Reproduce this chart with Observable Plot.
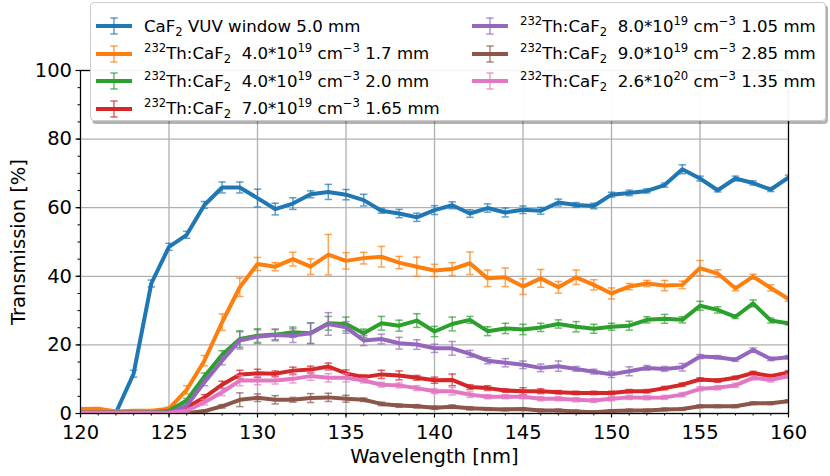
<!DOCTYPE html>
<html><head><meta charset="utf-8">
<script src="https://cdn.jsdelivr.net/npm/d3@7"></script>
<script src="https://cdn.jsdelivr.net/npm/@observablehq/plot@0.6"></script>
<style>
body{margin:0;background:#fff;font-family:"DejaVu Sans",sans-serif;}
#wrap{position:relative;width:830px;height:476px;overflow:hidden;}
#legend{position:absolute;left:90px;top:2px;width:736px;height:119px;background:rgba(255,255,255,0.96);border:1px solid #cccccc;border-radius:4px;box-shadow:2px 3px 0 rgba(0,0,0,0.3);box-sizing:border-box;}
.entry{position:absolute;height:26px;display:flex;align-items:center;font-size:16.6px;color:#000;white-space:pre;}
.entry svg{margin-right:12px;flex:none;}
sup,sub{font-size:70%;line-height:0;}
</style>
</head><body>
<div id="wrap"><div id="chart"></div><div id="legend"></div></div>
<script>
const wavelength = [120,121,122,123,124,125,126,127,128,129,130,131,132,133,134,135,136,137,138,139,140,141,142,143,144,145,146,147,148,149,150,151,152,153,154,155,156,157,158,159,160];

const caf2Window = [1.0,1.0,0.2,11.6,37.9,48.6,52.1,60.8,65.9,65.9,62.8,59.6,61.2,63.9,64.6,63.8,62.2,59.1,58.3,57.2,59.3,60.7,58.3,59.9,58.6,59.4,59.1,61.5,60.8,60.5,63.8,64.3,64.9,66.6,71.2,68.5,65.1,68.5,67.2,65.3,68.8];
const caf2WindowErr = [0.3,0.3,0.3,1.0,1.0,1.0,1.0,1.0,1.6,1.6,2.6,1.7,1.7,1.0,2.2,1.5,1.7,0.7,1.2,1.2,1.3,1.0,1.1,1.2,1.3,1.1,1.0,1.0,0.7,0.8,0.7,0.8,0.6,0.6,1.3,0.7,0.5,0.7,0.6,0.6,0.7];

const th40a = [1.3,1.4,0.6,0.8,0.8,1.4,6.9,15.4,26.6,36.8,43.6,42.8,45.0,42.8,46.3,44.5,45.3,45.7,44.0,42.8,41.7,42.1,43.8,39.4,39.7,37.0,39.4,36.8,39.7,37.5,35.0,37.0,37.9,37.3,37.5,42.4,40.8,36.5,39.9,36.6,33.4];
const th40aErr = [0.3,0.3,0.3,0.3,0.3,0.5,1.2,1.5,2.4,2.7,1.9,1.2,2.0,2.3,5.9,2.4,1.7,3.0,1.8,2.8,1.8,1.9,3.3,2.4,2.7,2.3,2.6,1.7,2.1,1.5,1.6,0.9,0.9,1.5,1.1,2.2,1.1,0.7,0.7,0.9,0.7];

const th40b = [0.3,0.3,0.3,0.3,0.3,0.8,3.8,10.8,17.1,21.7,22.7,23.0,23.7,23.4,26.3,26.1,23.4,26.3,25.6,27.1,23.9,26.1,27.3,24.0,24.8,24.5,25.1,26.1,25.3,24.7,25.3,25.6,27.3,27.6,27.3,31.4,30.2,28.2,32.1,27.1,26.3];
const th40bErr = [0.2,0.2,0.2,0.2,0.2,0.2,0.6,1.0,1.2,2.4,2.0,1.5,1.5,3.0,2.0,2.0,1.2,2.0,1.6,2.0,1.5,2.0,1.0,1.3,1.5,1.5,1.2,1.2,1.5,1.3,1.0,1.3,0.9,1.3,0.9,1.3,0.9,0.5,1.0,0.7,0.5];

const th70 = [0.2,0.2,0.2,0.2,0.2,0.2,1.8,4.7,8.4,11.4,11.7,11.6,12.5,12.8,13.7,11.7,10.6,11.4,11.1,10.4,9.7,9.8,7.7,7.4,6.7,6.5,6.5,6.2,6.0,6.0,6.0,6.5,6.5,7.4,8.4,9.9,9.6,10.4,11.8,10.9,12.0];
const th70Err = [0.2,0.2,0.2,0.2,0.2,0.2,0.4,0.8,1.0,1.2,1.2,0.8,1.0,1.0,1.0,1.0,0.7,1.2,1.3,0.7,0.9,1.7,0.7,0.7,0.5,1.0,0.7,0.5,0.5,0.5,0.5,0.5,0.5,0.5,0.5,0.5,0.5,0.5,0.5,0.5,0.5];

const th80 = [0.2,0.2,0.2,0.2,0.2,0.2,2.3,9.1,15.4,21.3,22.4,22.9,22.7,23.4,26.1,25.1,21.3,21.7,20.5,20.1,19.0,19.0,17.4,15.4,14.8,14.2,13.3,13.8,13.0,12.2,11.4,12.3,13.3,13.0,13.5,16.6,16.4,15.7,18.5,15.9,16.4];
const th80Err = [0.2,0.2,0.2,0.2,0.2,0.2,0.5,1.0,1.2,2.5,2.0,1.7,2.0,3.0,3.3,1.7,1.5,1.4,1.7,1.4,1.2,2.0,1.0,0.9,1.2,1.1,1.1,1.5,0.7,0.7,0.9,1.3,0.7,0.7,1.1,0.6,0.5,0.5,0.6,0.5,0.5];

const th90 = [0.1,0.1,0.1,0.1,0.1,0.1,0.1,0.7,2.1,4.0,4.6,4.0,4.0,4.5,4.7,4.3,4.0,2.8,2.3,2.1,1.7,2.0,1.5,1.3,1.2,1.3,0.9,0.9,0.6,0.4,0.7,0.9,0.9,1.2,1.3,2.1,2.1,2.1,3.0,3.0,3.6];
const th90Err = [0.2,0.2,0.2,0.2,0.2,0.2,0.2,0.2,0.5,2.0,1.1,1.2,0.7,1.3,1.2,1.0,0.5,0.5,0.5,0.5,0.5,0.5,0.5,0.4,0.4,0.4,0.4,0.4,0.4,0.4,0.4,0.4,0.4,0.4,0.4,0.4,0.4,0.4,0.4,0.4,0.4];

const th260 = [0.2,0.2,0.2,0.2,0.2,0.2,0.8,3.3,6.2,9.6,9.6,9.6,10.1,10.9,10.4,10.4,9.6,8.4,8.2,7.4,6.5,6.5,5.5,4.9,4.9,4.9,4.3,4.3,4.0,3.8,4.3,4.7,4.6,4.7,5.5,7.2,7.5,8.2,10.4,9.8,10.9];
const th260Err = [0.2,0.2,0.2,0.2,0.2,0.2,0.4,0.8,1.0,1.5,1.2,1.0,1.2,1.2,1.2,1.2,0.7,0.7,0.7,0.7,0.7,1.1,0.8,0.6,0.6,0.6,0.6,0.6,0.6,0.6,0.6,0.6,0.6,0.6,0.6,0.6,0.6,0.6,0.6,0.6,0.6];

const seriesLabels = [
  "CaF<sub>2</sub> VUV window 5.0 mm",
  "<sup>232</sup>Th:CaF<sub>2</sub>  4.0*10<sup>19</sup> cm<sup>−3</sup> 1.7 mm",
  "<sup>232</sup>Th:CaF<sub>2</sub>  4.0*10<sup>19</sup> cm<sup>−3</sup> 2.0 mm",
  "<sup>232</sup>Th:CaF<sub>2</sub>  7.0*10<sup>19</sup> cm<sup>−3</sup> 1.65 mm",
  "<sup>232</sup>Th:CaF<sub>2</sub>  8.0*10<sup>19</sup> cm<sup>−3</sup> 1.05 mm",
  "<sup>232</sup>Th:CaF<sub>2</sub>  9.0*10<sup>19</sup> cm<sup>−3</sup> 2.85 mm",
  "<sup>232</sup>Th:CaF<sub>2</sub>  2.6*10<sup>20</sup> cm<sup>−3</sup> 1.35 mm"
];
const seriesColors = ["#1f77b4","#ff7f0e","#2ca02c","#d62728","#9467bd","#8c564b","#e377c2"];
const seriesValues = [caf2Window, th40a, th40b, th70, th80, th90, th260];
const seriesErrors = [caf2WindowErr, th40aErr, th40bErr, th70Err, th80Err, th90Err, th260Err];

const xMajor = [120,125,130,135,140,145,150,155,160];
const xMinor = wavelength;
const yMajor = [0,20,40,60,80,100];
const yMinor = [0,5,10,15,20,25,30,35,40,45,50,55,60,65,70,75,80,85,90,95,100];

const capSymbol = {draw(ctx) { ctx.moveTo(-3.7, 0); ctx.lineTo(3.7, 0); }};

const seriesMarks = [];
seriesValues.forEach((vals, i) => {
  const rows = wavelength.map((x, j) => ({x, y: vals[j], e: seriesErrors[i][j]}));
  const c = seriesColors[i];
  seriesMarks.push(
    Plot.line(rows, {x: "x", y: "y", stroke: c, strokeWidth: 4, strokeLinejoin: "round", strokeLinecap: "butt", clip: true}),
    Plot.ruleX(rows, {x: "x", y1: d => d.y - d.e, y2: d => d.y + d.e, stroke: c, strokeWidth: 1.5, strokeOpacity: 0.7, clip: true}),
    Plot.dot(rows, {x: "x", y: d => d.y - d.e, symbol: capSymbol, stroke: c, strokeWidth: 1.5, strokeOpacity: 0.7, fill: "none", clip: true}),
    Plot.dot(rows, {x: "x", y: d => d.y + d.e, symbol: capSymbol, stroke: c, strokeWidth: 1.5, strokeOpacity: 0.7, fill: "none", clip: true})
  );
});

const chart = Plot.plot({
  width: 830, height: 476,
  marginLeft: 80, marginRight: 42, marginTop: 70, marginBottom: 63,
  style: {fontFamily: "DejaVu Sans", fontSize: "19.5px", background: "white", color: "black", overflow: "visible"},
  x: {domain: [120, 160]},
  y: {domain: [0, 100]},
  marks: [
    Plot.gridX(xMajor, {stroke: "#b0b0b0", strokeOpacity: 1, strokeWidth: 1.3}),
    Plot.gridY(yMajor, {stroke: "#b0b0b0", strokeOpacity: 1, strokeWidth: 1.3}),
    ...seriesMarks,
    Plot.frame({stroke: "black", strokeWidth: 1.2}),
    Plot.axisX(xMinor, {tickSize: 2.5, tickFormat: () => "", label: null, strokeWidth: 1}),
    Plot.axisX(xMajor, {tickSize: 4.5, tickPadding: 7, tickFormat: d => String(d), label: null, strokeWidth: 1.2, fontSize: 19.5}),
    Plot.axisY(yMinor, {tickSize: 2.5, tickFormat: () => "", label: null, strokeWidth: 1}),
    Plot.axisY(yMajor, {tickSize: 4.5, tickPadding: 4, tickFormat: d => String(d), label: null, strokeWidth: 1.2, fontSize: 19.5}),
    Plot.text(["Wavelength [nm]"], {text: d => d, frameAnchor: "bottom", textAnchor: "middle", lineAnchor: "middle", dy: 43, fontSize: 19.5}),
    Plot.text(["Transmission [%]"], {text: d => d, frameAnchor: "left", textAnchor: "middle", lineAnchor: "middle", dx: -62, rotate: -90, fontSize: 19.5})
  ]
});
document.getElementById("chart").appendChild(chart);

// legend
const legend = document.getElementById("legend");
const colLeft = [5, 381];
const rowTop = [10, 37.5, 65, 92.5];
seriesLabels.forEach((lab, i) => {
  const col = i < 4 ? 0 : 1;
  const row = i < 4 ? i : i - 4;
  const c = seriesColors[i];
  const div = document.createElement("div");
  div.className = "entry";
  div.style.left = colLeft[col] + "px";
  div.style.top = rowTop[row] + "px";
  div.innerHTML = `<svg width="36" height="26"><line x1="0" x2="36" y1="13" y2="13" stroke="${c}" stroke-width="4"/>` +
    `<g stroke="${c}" stroke-opacity="0.7" stroke-width="1.5"><line x1="18" x2="18" y1="5" y2="21"/><line x1="14.3" x2="21.7" y1="5" y2="5"/><line x1="14.3" x2="21.7" y1="21" y2="21"/></g></svg><span>${lab}</span>`;
  legend.appendChild(div);
});
</script>
</body></html>
